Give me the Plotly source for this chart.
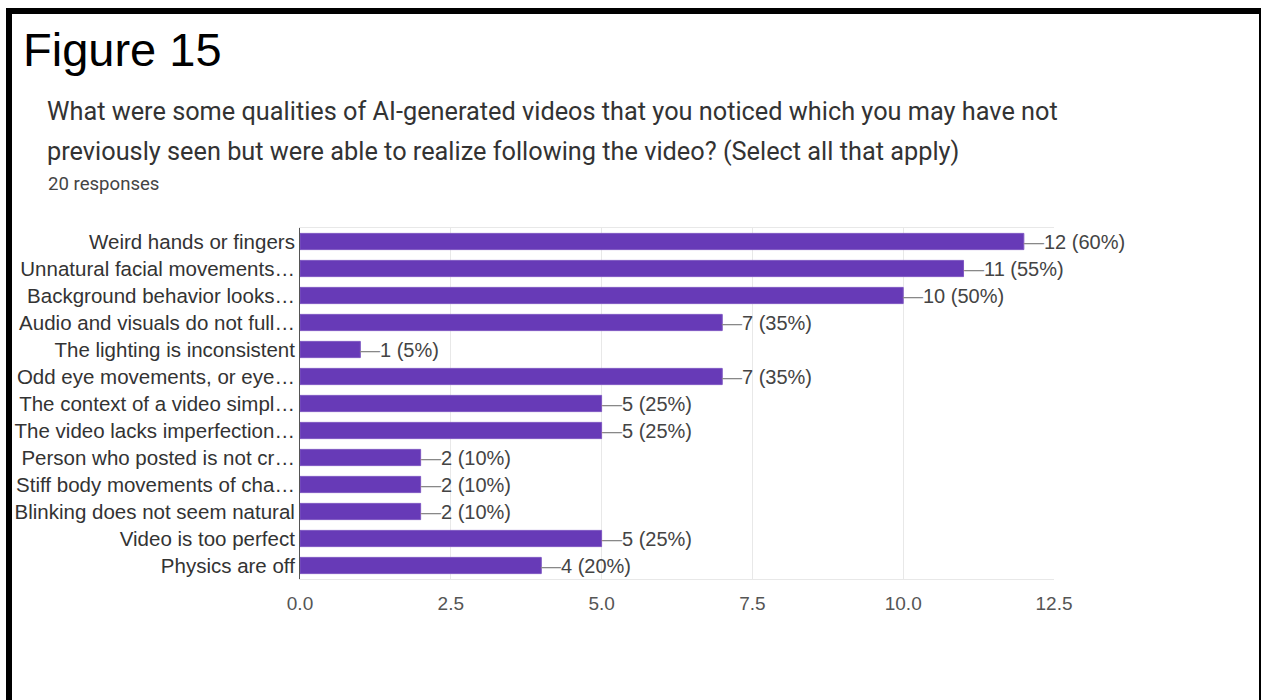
import plotly.graph_objects as go

categories = [
    "Weird hands or fingers",
    "Unnatural facial movements\u2026",
    "Background behavior looks\u2026",
    "Audio and visuals do not full\u2026",
    "The lighting is inconsistent",
    "Odd eye movements, or eye\u2026",
    "The context of a video simpl\u2026",
    "The video lacks imperfection\u2026",
    "Person who posted is not cr\u2026",
    "Stiff body movements of cha\u2026",
    "Blinking does not seem natural",
    "Video is too perfect",
    "Physics are off",
]
counts = [12, 11, 10, 7, 1, 7, 5, 5, 2, 2, 2, 5, 4]
total_responses = 20
x_ticks = [0.0, 2.5, 5.0, 7.5, 10.0, 12.5]

W_PX, H_PX = 1261, 700
L, R, T, B = 300, 1054, 228, 579
PW, PH = R - L, B - T


def px(x):
    return (x - L) / PW


def py(y):
    return (B - y) / PH


BAR = "#673ab7"
FONT = "Liberation Sans, Arial, sans-serif"
RFONT = "Roboto, Arial, sans-serif"

fig = go.Figure()
fig.add_trace(go.Bar(
    x=counts, y=categories, orientation="h",
    marker=dict(color=BAR, line=dict(color="#7e57c2", width=1)),
    width=0.6, hoverinfo="skip",
))

annotations = []
for c, v in zip(categories, counts):
    pct = round(v / total_responses * 100)
    annotations.append(dict(
        x=v, y=c, xref="x", yref="y", xanchor="left", yanchor="middle",
        text=f"<span style='color:#888'>\u2014</span>{v} ({pct}%)",
        showarrow=False, font=dict(family=FONT, size=20, color="#444"),
        xshift=-2,
    ))

# Title block
annotations.append(dict(
    x=px(21), y=py(50), xref="paper", yref="paper", xanchor="left", yanchor="middle",
    text="Figure 15", showarrow=False, font=dict(family=FONT, size=47, color="#000"),
))
annotations.append(dict(
    x=px(45), y=py(111), xref="paper", yref="paper", xanchor="left", yanchor="middle",
    text="What were some qualities of AI-generated videos that you noticed which you may have not",
    showarrow=False, font=dict(family=RFONT, size=25.3, color="#333"),
))
annotations.append(dict(
    x=px(45), y=py(151), xref="paper", yref="paper", xanchor="left", yanchor="middle",
    text="previously seen but were able to realize following the video? (Select all that apply)",
    showarrow=False, font=dict(family=RFONT, size=25.3, color="#333"),
))
annotations.append(dict(
    x=px(46), y=py(184), xref="paper", yref="paper", xanchor="left", yanchor="middle",
    text="20 responses", showarrow=False, font=dict(family=RFONT, size=18.6, color="#444"),
))

shapes = [
    dict(type="rect", xref="paper", yref="paper", x0=px(6), x1=px(1261), y0=py(8), y1=py(14),
         fillcolor="#000", line=dict(width=0), layer="above"),
    dict(type="rect", xref="paper", yref="paper", x0=px(6), x1=px(12), y0=py(8), y1=py(700),
         fillcolor="#000", line=dict(width=0), layer="above"),
    dict(type="rect", xref="paper", yref="paper", x0=px(1259), x1=px(1261), y0=py(8), y1=py(700),
         fillcolor="#000", line=dict(width=0), layer="above"),
]

fig.update_layout(
    width=W_PX, height=H_PX,
    margin=dict(l=L, r=W_PX - R, t=T, b=H_PX - B, pad=0),
    paper_bgcolor="white", plot_bgcolor="white",
    showlegend=False, bargap=0.4,
    annotations=annotations, shapes=shapes,
    xaxis=dict(
        range=[0, 12.5], tickvals=x_ticks, ticktext=[f"{t:.1f}" for t in x_ticks],
        showgrid=True, gridcolor="#e8e8e8", gridwidth=1,
        showline=True, linecolor="#e8e8e8", linewidth=1, mirror=True,
        zeroline=False, ticks="outside", ticklen=7, tickcolor="rgba(0,0,0,0)",
        tickfont=dict(family=FONT, size=19, color="#555"),
        fixedrange=True,
    ),
    yaxis=dict(
        autorange="reversed", showgrid=False, zeroline=False,
        showline=True, linecolor="#555", linewidth=1,
        ticks="", 
        tickfont=dict(family=FONT, size=20.5, color="#333"),
        fixedrange=True,
    ),
)

fig.write_html(
    "out.html",
    config={"displayModeBar": False},
    post_script="document.body.style.margin='0';document.body.style.overflow='hidden';",
)
